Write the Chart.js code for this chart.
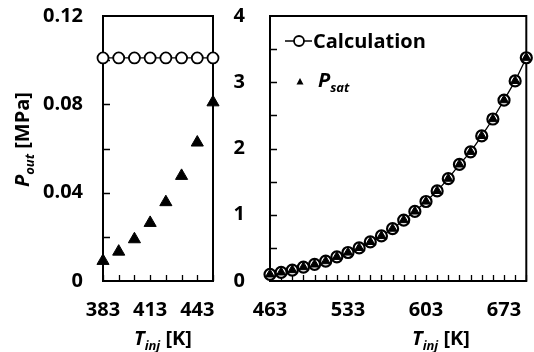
<!DOCTYPE html>
<html><head><meta charset="utf-8">
<script src="https://cdn.jsdelivr.net/npm/chart.js@4.4.1/dist/chart.umd.min.js"></script>
<style>
html,body{margin:0;padding:0;background:#fff;}
#wrap{position:relative;width:534px;height:352px;overflow:hidden;font-family:"Open Sans",sans-serif;font-weight:bold;color:#000;}
.box{position:absolute;top:0;height:352px;}
.t{position:absolute;font-size:20px;white-space:nowrap;line-height:20px;font-weight:bold;}
.t i{font-style:italic;}
.t sub{font-size:13px;font-style:italic;vertical-align:baseline;position:relative;top:5px;}
</style></head><body>
<div id="wrap">
  <div class="box" style="left:0;width:230px;"><canvas id="c1"></canvas></div>
  <div class="box" style="left:230px;width:304px;"><canvas id="c2"></canvas></div>
  <div class="t" style="left:-40px;top:130px;width:125px;text-align:center;transform:rotate(-90deg);transform-origin:62px 10px;"><i>P</i><sub>out</sub> [MPa]</div>
  <div class="t" style="left:134px;top:328px;"><i>T</i><sub>inj</sub> [K]</div>
  <div class="t" style="left:412px;top:328px;"><i>T</i><sub>inj</sub> [K]</div>
  <svg style="position:absolute;left:0;top:0;" width="534" height="352">
    <line x1="285" y1="41" x2="312" y2="41" stroke="#000" stroke-width="1.5"/>
    <circle cx="299" cy="41" r="5" fill="#fff" stroke="#000" stroke-width="1.8"/>
    <polygon points="300,78 303.5,84.5 296.5,84.5" fill="#000"/>
  </svg>
  <div class="t" style="left:313px;top:31px;">Calculation</div>
  <div class="t" style="left:318px;top:70px;"><i>P</i><sub>sat</sub></div>
</div>
<script>
// ---- data ----
const leftT = [383, 393, 403, 413, 423, 433, 443, 453];
const leftCalc = [0.101, 0.101, 0.101, 0.101, 0.101, 0.101, 0.101, 0.101];
const leftPsat = [0.0091, 0.0133, 0.0189, 0.0263, 0.0357, 0.0476, 0.0627, 0.0809];

const rightT = [463, 473, 483, 493, 503, 513, 523, 533, 543, 553, 563, 573,
                583, 593, 603, 613, 623, 633, 643, 653, 663, 673, 683, 693];
const rightCalc = [0.101, 0.13, 0.165, 0.21, 0.25, 0.30, 0.365, 0.43, 0.50, 0.59, 0.68, 0.79,
                   0.92, 1.05, 1.20, 1.36, 1.545, 1.76, 1.95, 2.19, 2.445, 2.73, 3.02, 3.37];
const rightPsat = [0.10, 0.13, 0.165, 0.21, 0.25, 0.30, 0.365, 0.43, 0.50, 0.59, 0.68, 0.79,
                   0.92, 1.05, 1.20, 1.36, 1.545, 1.76, 1.95, 2.19, 2.445, 2.73, 3.02, 3.37];

const leftXTicks = [383, 413, 443];
const leftYTicks = [0, 0.04, 0.08, 0.12];
const leftYMinor = [0.02, 0.04, 0.06, 0.08, 0.10];
const rightXTicks = [463, 533, 603, 673];
const rightYTicks = [0, 1, 2, 3, 4];
const rightYMinor = [0.5, 1, 1.5, 2, 2.5, 3, 3.5];

// ---- helpers ----
const FONT = {family: '"Open Sans", sans-serif', size: 20, weight: 'bold'};
const pts = (xs, ys) => xs.map((x, i) => ({x: x, y: ys[i]}));

const frameTicks = {
  id: 'frameTicks',
  beforeDatasetsDraw(chart, args, opts) {
    const {ctx, chartArea: a, scales: {x, y}} = chart;
    ctx.save();
    ctx.strokeStyle = '#000';
    ctx.lineWidth = 1.3;
    ctx.beginPath();
    opts.xMinor.forEach(v => { const px = Math.round(x.getPixelForValue(v)) + 0.5; ctx.moveTo(px, a.bottom); ctx.lineTo(px, a.bottom - 6); });
    opts.yMinor.forEach(v => { const py = Math.round(y.getPixelForValue(v)) + 0.5; ctx.moveTo(a.left, py); ctx.lineTo(a.left + 7, py); });
    ctx.stroke();
    ctx.lineWidth = 2;
    ctx.strokeRect(a.left, a.top, a.width, a.height);
    ctx.restore();
  }
};

function makeChart(id, cfg) {
  return new Chart(document.getElementById(id), {
    type: 'line',
    data: {
      datasets: [
        {label: 'Psat', data: pts(cfg.xs, cfg.psat), showLine: false, pointStyle: 'triangle',
         pointRadius: cfg.triR, pointBackgroundColor: '#000', pointBorderColor: '#000', pointBorderWidth: 1, clip: false, order: 0},
        {label: 'Calculation', data: pts(cfg.xs, cfg.calc), showLine: true, borderColor: '#000', borderWidth: 1.3,
         pointStyle: 'circle', pointRadius: cfg.circR, pointBackgroundColor: '#fff', pointBorderColor: '#000', pointBorderWidth: cfg.circW, clip: false, order: 1}
      ]
    },
    plugins: [frameTicks],
    options: {
      responsive: true, maintainAspectRatio: false, animation: false,
      layout: {padding: {top: 16, right: cfg.padR, left: 0, bottom: 0}},
      plugins: {legend: {display: false}, tooltip: {enabled: false},
        frameTicks: {xMinor: cfg.xs, yMinor: cfg.yMinor}},
      elements: {line: {tension: 0}},
      scales: {
        x: {type: 'linear', min: cfg.xmin, max: cfg.xmax,
            afterFit(s) { s.height = 71; s.paddingLeft = 0; s.paddingRight = 0; },
            afterBuildTicks(s) { s.ticks = cfg.xTicks.map(v => ({value: v})); },
            grid: {display: false, drawTicks: false}, border: {display: false},
            ticks: {padding: 17, color: '#000', font: FONT, maxRotation: 0, autoSkip: false, callback: v => String(v)}},
        y: {type: 'linear', min: cfg.ymin, max: cfg.ymax,
            afterFit(s) { s.width = cfg.yW; s.paddingTop = 0; s.paddingBottom = 0; },
            afterBuildTicks(s) { s.ticks = cfg.yTicks.map(v => ({value: v})); },
            grid: {display: false, drawTicks: false}, border: {display: false},
            ticks: {padding: cfg.yPad, color: '#000', font: FONT, autoSkip: false, callback: v => String(v)}}
      }
    }
  });
}

makeChart('c1', {xs: leftT, calc: leftCalc, psat: leftPsat, xmin: 383, xmax: 453, ymin: 0, ymax: 0.12,
  xTicks: leftXTicks, yTicks: leftYTicks, yMinor: leftYMinor, yW: 103, yPad: 20, padR: 17, circR: 5.5, circW: 1.8, triR: 7});
makeChart('c2', {xs: rightT, calc: rightCalc, psat: rightPsat, xmin: 463, xmax: 693, ymin: 0, ymax: 4,
  xTicks: rightXTicks, yTicks: rightYTicks, yMinor: rightYMinor, yW: 40, yPad: 25, padR: 4, circR: 5.5, circW: 2.2, triR: 5.2});
</script>
</body></html>
